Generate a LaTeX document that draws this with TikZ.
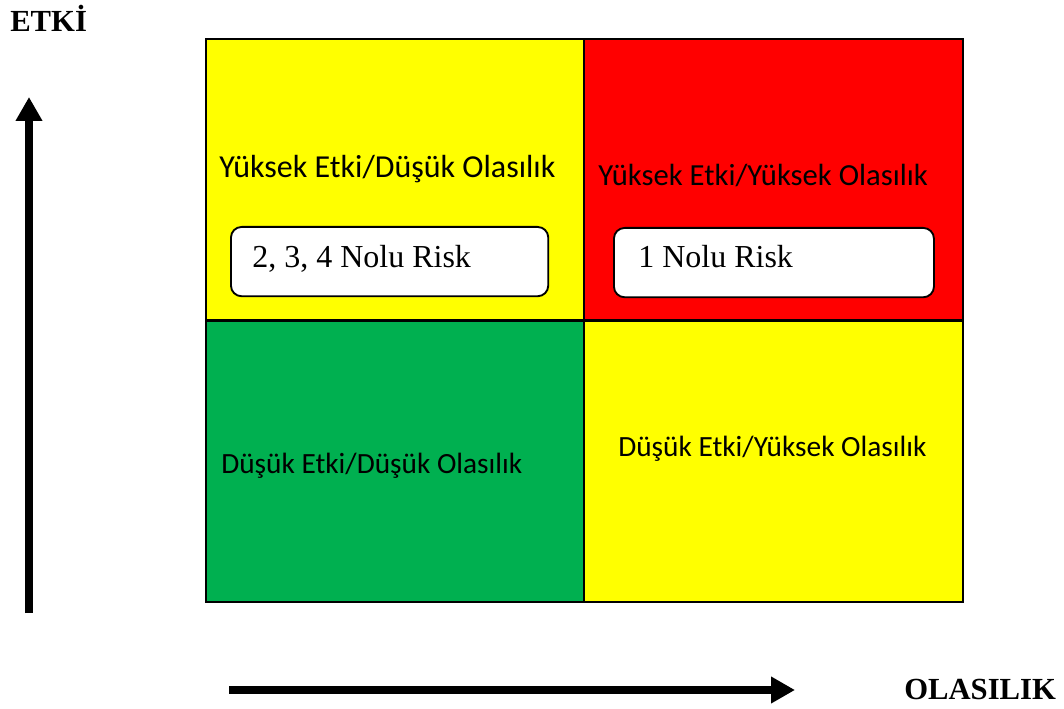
\documentclass[tikz,border=0pt]{standalone}
\usepackage{fontspec}
\setmainfont{Liberation Serif}
\newfontfamily\calibri{Carlito}
\usepackage{tikz}
\usetikzlibrary{arrows.meta}

\definecolor{riskyellow}{HTML}{FFFF00}
\definecolor{riskred}{HTML}{FF0000}
\definecolor{riskgreen}{HTML}{00B050}

\begin{document}
\begin{tikzpicture}[x=0.75pt, y=-0.75pt,
    quad/.style={draw, line width=1.5pt, anchor=north west, inner sep=0pt,
      minimum width=284pt, minimum height=211pt},
    qlabel/.style={anchor=base west, inner sep=0pt, font=\calibri\fontsize{#1}{28}\selectfont},
    qlabel/.default=24,
    riskbox/.style={draw, fill=white, line width=1.4pt, rounded corners=8pt,
      anchor=north west, inner sep=0pt},
    risktext/.style={anchor=base west, inner sep=0pt, font=\fontsize{24}{28}\selectfont},
    axistext/.style={anchor=base west, inner sep=0pt, font=\bfseries\fontsize{23}{27}\selectfont},
    axis/.style={line width=5.5pt, -{Triangle[length=18pt, width=19pt]}}]
  \useasboundingbox (0,0) rectangle (1064,709);
  % quadrants
  \node[quad, fill=riskyellow] (hl) at (205,38) {};
  \node[quad, fill=riskred] (hh) at (583,38) {};
  \node[quad, fill=riskgreen] (ll) at (205,320) {};
  \node[quad, fill=riskyellow] (lh) at (583,320) {};
  \node[qlabel] (hltext) at (219,178) {Yüksek Etki/Düşük Olasılık};
  \node[qlabel=23] (hhtext) at (598,186) {Yüksek Etki/Yüksek Olasılık};
  \node[qlabel=22] (lltext) at (221,473) {Düşük Etki/Düşük Olasılık};
  \node[qlabel=22] (lhtext) at (618,456) {Düşük Etki/Yüksek Olasılık};
  % risks
  \node[riskbox, minimum width=238pt, minimum height=52pt] (riskleft) at (230,226) {};
  \node[riskbox, minimum width=240pt, minimum height=52pt] (riskright) at (613,227) {};
  \node[risktext] (riskl) at (252,268) {2, 3, 4 Nolu Risk};
  \node[risktext] (riskr) at (638,268) {1 Nolu Risk};
  % axes
  \coordinate (ybot) at (29,613);
  \coordinate (ytop) at (29,97);
  \coordinate (xleft) at (229,690);
  \coordinate (xright) at (795,690);
  \draw[axis] (ybot) -- (ytop);
  \draw[axis] (xleft) -- (xright);
  \node[axistext] (etki) at (10,32) {ETKİ};
  \node[axistext] (olasilik) at (904,699) {OLASILIK};
\end{tikzpicture}
\end{document}
